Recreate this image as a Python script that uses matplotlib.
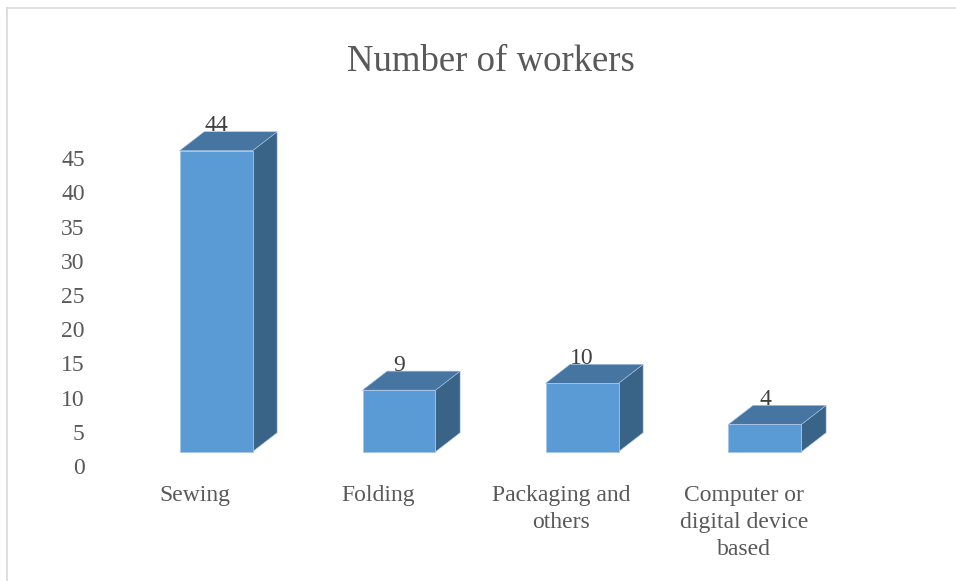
import matplotlib.pyplot as plt
from matplotlib.patches import Polygon
from matplotlib.lines import Line2D

# Data
categories = ["Sewing", "Folding", "Packaging and\nothers", "Computer or\ndigital device\nbased"]
workers = [44, 9, 10, 4]
ytick_values = list(range(0, 50, 5))
title = "Number of workers"

plt.rcParams['font.family'] = ['Liberation Serif', 'DejaVu Serif']
TEXT = '#595959'
FRONT = '#5B9BD5'
TOP = '#4575A0'
SIDE = '#3A6388'
EDGE = '#A7C4E6'

W, H = 956, 581
fig = plt.figure(figsize=(W / 100, H / 100), dpi=100)


def rect(left, top, right, bottom):
    """Axes rectangle in figure fractions from pixel edges (y from top)."""
    return [left / W, 1 - bottom / H, (right - left) / W, (bottom - top) / H]


# Plot area for the 3-D bars
L, R, T, B = 100, 900, 90, 470
ax = fig.add_axes(rect(L, T, R, B))
x_first, x_step = 216, 183          # bar centre of the first category and spacing (px)
y_zero, y_scale = 451.7, 6.84       # floor line (px) and px per worker
ax.set_xlim((L - x_first) / x_step, (R - x_first) / x_step)
ax.set_ylim((y_zero - B) / y_scale, (y_zero - T) / y_scale)
ax.axis('off')

# depth of the boxes, converted from pixels to data units
dx = 24.6 / x_step
dy = 19.0 / y_scale
bw = 73 / x_step

for i, v in enumerate(workers):
    x0, x1 = i - bw / 2, i + bw / 2
    front = [(x0, 0), (x1, 0), (x1, v), (x0, v)]
    top = [(x0, v), (x1, v), (x1 + dx, v + dy), (x0 + dx, v + dy)]
    side = [(x1, 0), (x1 + dx, dy), (x1 + dx, v + dy), (x1, v)]
    ax.add_patch(Polygon(side, closed=True, facecolor=SIDE, edgecolor=EDGE, lw=0.4, zorder=2))
    ax.add_patch(Polygon(top, closed=True, facecolor=TOP, edgecolor=EDGE, lw=0.4, zorder=2))
    ax.add_patch(Polygon(front, closed=True, facecolor=FRONT, edgecolor=EDGE, lw=0.6, zorder=3))
    ax.annotate(str(v), xy=(i, v), xytext=(0, 25 * 0.72), textcoords='offset points',
                ha='center', va='center', fontsize=17, color='#404040', zorder=4)

# Axis labels sit on the back wall: a second, transparent axes carries them
tick_zero = 466.0
B2 = 480
ax2 = fig.add_axes(rect(L, T, R, B2))
ax2.patch.set_alpha(0)
for s in ax2.spines.values():
    s.set_visible(False)
ax2.set_ylim((tick_zero - B2) / y_scale, (tick_zero - T) / y_scale)
ax2.set_yticks(ytick_values)
ax2.set_yticklabels([str(t) for t in ytick_values])
label_first = 195
ax2.set_xlim((L - label_first) / x_step, (R - label_first) / x_step)
ax2.set_xticks(range(len(categories)))
ax2.set_xticklabels(categories, linespacing=1.37)
ax2.tick_params(axis='y', length=0, pad=11, labelsize=17, labelcolor=TEXT)
ax2.tick_params(axis='x', length=0, pad=3.5, labelsize=17, labelcolor=TEXT)

fig.text(491 / W, 1 - 71 / H, title, ha='center', va='baseline', fontsize=26.5, color=TEXT)

# chart frame (top and left edges)
fig.add_artist(Line2D([7 / W, 1], [1 - 7.5 / H, 1 - 7.5 / H], color='#D9D9D9', lw=1.2))
fig.add_artist(Line2D([7 / W, 7 / W], [0, 1 - 7.5 / H], color='#D9D9D9', lw=1.2))

fig.savefig('out.png', dpi=100)
